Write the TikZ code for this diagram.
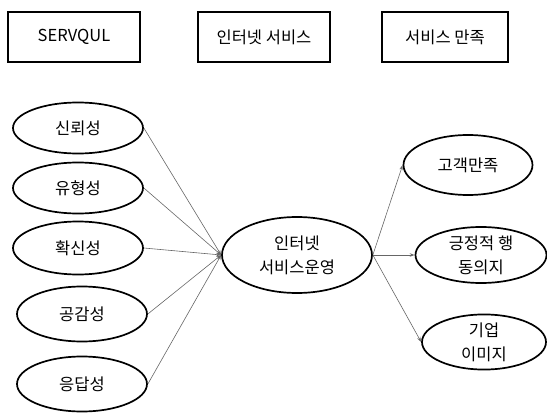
\documentclass[tikz,border=0pt]{standalone}
\usepackage{fontspec}
\setmainfont{Noto Sans CJK KR}
\usetikzlibrary{shapes.geometric,arrows.meta}
\tikzset{
  hdr/.style={draw=black,line width=1.7pt,rectangle,inner sep=0pt,font=\fontsize{16.5}{20}\selectfont},
  oval/.style={draw=black,line width=1.7pt,ellipse,inner sep=0pt,align=center,font=\fontsize{16.5}{24}\selectfont},
  link/.style={draw=black!60,line width=0.6pt},
  flow/.style={link,-{Stealth[length=5pt,width=3.5pt,open]}}
}
\begin{document}
\begin{tikzpicture}[x=1pt,y=-1pt]
\useasboundingbox (0,0) rectangle (547,415);
% header boxes
\node[hdr,minimum width=132pt,minimum height=50pt] (h1) at (74,37) {SERVQUL};
\node[hdr,minimum width=132pt,minimum height=50pt] (h2) at (264,37) {인터넷 서비스};
\node[hdr,minimum width=126pt,minimum height=50pt] (h3) at (445,37) {서비스 만족};
% left ellipses
\node[oval,minimum width=130pt,minimum height=51pt] (e1) at (78,128) {신뢰성};
\node[oval,minimum width=130pt,minimum height=51pt] (e2) at (78,188) {유형성};
\node[oval,minimum width=130pt,minimum height=53pt] (e3) at (78,248) {확신성};
\node[oval,minimum width=130pt,minimum height=55pt] (e4) at (82,314) {공감성};
\node[oval,minimum width=130pt,minimum height=55pt] (e5) at (82,384) {응답성};
% centre
\node[oval,minimum width=150pt,minimum height=76pt] (c) at (297,255) {인터넷\\서비스운영};
% right ellipses
\node[oval,minimum width=129pt,minimum height=60pt] (r1) at (468,165) {고객만족};
\node[oval,minimum width=131pt,minimum height=56pt] (r2) at (481,255) {긍정적 행\\동의지};
\node[oval,minimum width=124pt,minimum height=55pt] (r3) at (484,342) {기업\\이미지};
% connectors
\foreach \n in {e1,e2,e3,e4,e5} \draw[flow] (\n.east) -- (c.west);
\foreach \n in {r1,r2,r3} \draw[flow] (c.east) -- (\n.west);
\end{tikzpicture}
\end{document}
